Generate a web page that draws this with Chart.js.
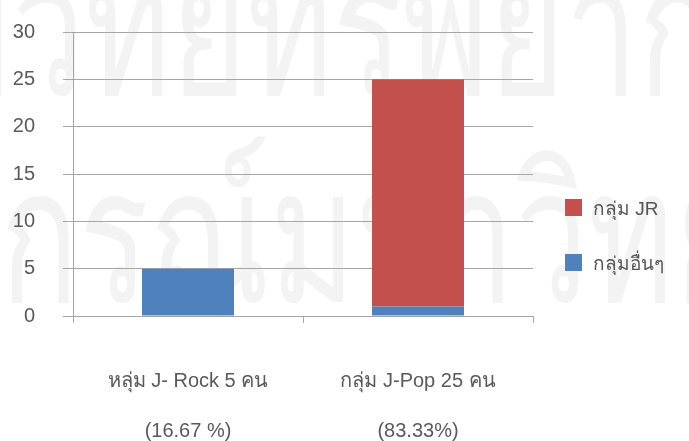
<!DOCTYPE html>
<html>
<head>
<meta charset="utf-8">
<script src="https://cdn.jsdelivr.net/npm/chart.js@4/dist/chart.umd.min.js"></script>
<style>
  html, body { margin: 0; padding: 0; background: #fff; }
  .wrap { position: relative; width: 689px; height: 441px; }
  .legend { position: absolute; left: 565px; top: 198px; font-family: "Liberation Sans", Arial, sans-serif; font-size: 19px; color: #555; }
  .legend div { display: flex; align-items: center; height: 19px; margin-bottom: 36px; }
  .legend span.box { width: 17px; height: 17px; margin-right: 11px; display: inline-block; }
</style>
</head>
<body>
<div class="wrap">
  <canvas id="chart" width="689" height="441"></canvas>
  <div class="legend" id="legend"></div>
</div>
<script>
var categories = [
  ["หลุ่ม J- Rock 5 คน", "(16.67 %)"],
  ["กลุ่ม J-Pop 25 คน", "(83.33%)"]
];
var otherGroup = [5, 1];   // กลุ่มอื่นๆ
var jrGroup = [0, 24];     // กลุ่ม JR
var yTicks = [0, 5, 10, 15, 20, 25, 30];
var watermark = ["ศูนย์วิทยทรัพยากร", "จุฬาลงกรณ์มหาวิทยาลัย"];

var red = '#c4504e';
var blue = '#4f81bd';
var textColor = '#595959';
var gridColor = '#a6a6a6';

// faint background watermark of the scanned page
var watermarkPlugin = {
    id: 'watermark',
    beforeDraw: function (chart) {
        var c = chart.ctx;
        c.save();
        c.fillStyle = '#f3f3f3';
        c.font = '130px "Noto Sans", sans-serif';
        c.textBaseline = 'alphabetic';
        c.scale(1, 1.45);
        var off1 = c.measureText("ศูนย์").width;
        c.fillText(watermark[0], 12 - off1, 95 / 1.45);
        var off2 = c.measureText("จุฬาลง").width;
        c.fillText(watermark[1], 0 - off2, 302 / 1.45);
        c.restore();
    }
};

var ctx = document.getElementById("chart");
var chart = new Chart(ctx, {
    type: 'bar',
    data: {
        labels: categories,
        datasets: [
            { label: "กลุ่มอื่นๆ", data: otherGroup, backgroundColor: blue, barPercentage: 0.4, categoryPercentage: 1 },
            { label: "กลุ่ม JR", data: jrGroup, backgroundColor: red, barPercentage: 0.4, categoryPercentage: 1 }
        ]
    },
    options: {
        responsive: false,
        animation: false,
        layout: { padding: { top: 32, right: 156, left: 0, bottom: 0 } },
        plugins: {
            legend: { display: false },
            tooltip: { enabled: false }
        },
        scales: {
            x: {
                stacked: true,
                afterFit: function (s) { s.height = 125; s.paddingLeft = 0; s.paddingRight = 0; },
                border: { display: false },
                grid: { offset: true, drawOnChartArea: false, drawTicks: true, tickLength: 7, color: gridColor },
                ticks: {
                    color: textColor,
                    padding: 33,
                    font: { family: "Liberation Sans", size: 20, lineHeight: 2.5 }
                }
            },
            y: {
                stacked: true,
                min: 0,
                max: 30,
                afterFit: function (s) { s.width = 73; s.paddingTop = 0; s.paddingBottom = 0; },
                afterBuildTicks: function (s) { s.ticks = yTicks.map(function (v) { return { value: v }; }); },
                border: { display: true, color: gridColor },
                grid: { color: gridColor, tickLength: 10 },
                ticks: {
                    color: textColor,
                    padding: 28,
                    font: { family: "Liberation Sans", size: 20 }
                }
            }
        }
    },
    plugins: [watermarkPlugin]
});

// legend in the same order as the picture: JR on top
var legendEl = document.getElementById("legend");
chart.data.datasets.slice().reverse().forEach(function (ds) {
    var row = document.createElement("div");
    row.innerHTML = '<span class="box" style="background:' + ds.backgroundColor + '"></span>' + ds.label;
    legendEl.appendChild(row);
});
</script>
</body>
</html>
